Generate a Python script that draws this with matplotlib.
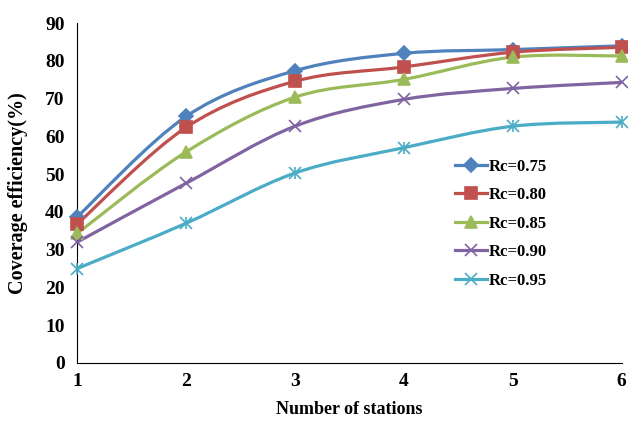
import matplotlib
matplotlib.use('Agg')
import matplotlib.pyplot as plt
from matplotlib.path import Path
from matplotlib.patches import PathPatch
from matplotlib.lines import Line2D
import numpy as np

stations = [1, 2, 3, 4, 5, 6]
rc_075 = [38.7, 65.3, 77.4, 82.0, 83.0, 84.0]
rc_080 = [36.8, 62.4, 74.6, 78.4, 82.3, 83.6]
rc_085 = [34.3, 55.9, 70.4, 75.1, 81.0, 81.3]
rc_090 = [32.0, 47.6, 62.7, 69.8, 72.7, 74.3]
rc_095 = [25.0, 37.0, 50.3, 57.0, 62.7, 63.8]
labels = ['Rc=0.75', 'Rc=0.80', 'Rc=0.85', 'Rc=0.90', 'Rc=0.95']
yticks = [0, 10, 20, 30, 40, 50, 60, 70, 80, 90]

series = [rc_075, rc_080, rc_085, rc_090, rc_095]
colors = ['#4F81BD', '#C0504D', '#9BBB59', '#8064A2', '#4BACC6']
markers = ['D', 's', '^', 'x', 'x']

plt.rcParams['font.family'] = ['Liberation Serif', 'DejaVu Serif']
plt.rcParams['font.weight'] = 'bold'


def smooth_path(x, y):
    # excel-like smoothed line: cubic bezier with catmull-rom control points
    x = np.asarray(x, float)
    y = np.asarray(y, float)
    n = len(x)
    verts = [(x[0], y[0])]
    codes = [Path.MOVETO]
    for i in range(n - 1):
        p0 = np.array([x[max(i - 1, 0)], y[max(i - 1, 0)]])
        p1 = np.array([x[i], y[i]])
        p2 = np.array([x[i + 1], y[i + 1]])
        p3 = np.array([x[min(i + 2, n - 1)], y[min(i + 2, n - 1)]])
        c1 = p1 + (p2 - p0) / 6.0
        c2 = p2 - (p3 - p1) / 6.0
        verts += [tuple(c1), tuple(c2), tuple(p2)]
        codes += [Path.CURVE4] * 3
    return Path(verts, codes)


fig = plt.figure(figsize=(6.28, 4.21), dpi=100)
ax = fig.add_axes([0.123, 0.138, 0.867, 0.807])

handles = []
for vals, c, m, lab in zip(series, colors, markers, labels):
    ax.add_patch(PathPatch(smooth_path(stations, vals), facecolor='none',
                           edgecolor=c, lw=2.3, zorder=2, clip_on=False))
    ms = 7 if m in ('D',) else 8
    ax.plot(stations, vals, linestyle='none', marker=m, color=c, ms=ms,
            mew=1.2, zorder=3, clip_on=False)
    if lab == 'Rc=0.95':
        ax.plot(stations, vals, linestyle='none', marker='|', color=c, ms=8,
                mew=1.2, zorder=3, clip_on=False)
    handles.append(Line2D([], [], color=c, lw=2.3, marker=m, ms=ms, mew=1.2))

ax.set_xlim(1, 6)
ax.set_ylim(0, 90)
ax.set_xticks(stations)
ax.set_yticks(yticks)
ax.tick_params(length=0, labelsize=14, pad=7)
ax.tick_params(axis='y', pad=9)
for t in ax.get_xticklabels() + ax.get_yticklabels():
    t.set_fontweight('bold')
ax.spines['top'].set_visible(False)
ax.spines['right'].set_visible(False)
ax.spines['left'].set_color('black')
ax.spines['bottom'].set_color('black')

ax.set_xlabel('Number of stations', fontsize=13, fontweight='bold', labelpad=8)
ax.set_ylabel('Coverage efficiency(%)', fontsize=14.5, fontweight='bold', labelpad=12)

ax.legend(handles, labels, loc='upper left', bbox_to_anchor=(0.67, 0.64),
          frameon=False, handlelength=1.9, handletextpad=0.1,
          labelspacing=0.75, borderpad=0.3,
          prop={'weight': 'bold', 'size': 12})

fig.savefig('out.png', dpi=100)
